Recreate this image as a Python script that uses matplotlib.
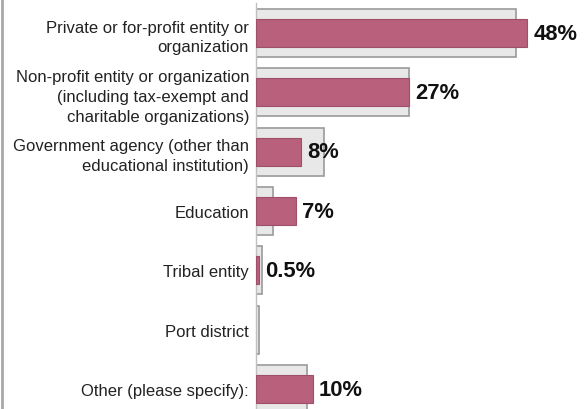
import matplotlib.pyplot as plt
from matplotlib.lines import Line2D

plt.rcParams['font.family'] = ['Liberation Sans', 'DejaVu Sans']

categories = [
    'Private or for-profit entity or\norganization',
    'Non-profit entity or organization\n(including tax-exempt and\ncharitable organizations)',
    'Government agency (other than\neducational institution)',
    'Education',
    'Tribal entity',
    'Port district',
    'Other (please specify):',
]
# percentages for this group (pink) and comparison group (grey)
values = [48, 27, 8, 7, 0.5, 0, 10]
value_labels = ['48%', '27%', '8%', '7%', '0.5%', '', '10%']
comparison = [46, 27, 12, 3, 1, 0.5, 9]

fig = plt.figure(figsize=(5.84, 4.10), dpi=100)
ax = fig.add_axes([256 / 584, -9.7 / 410, 328 / 584, 415.3 / 410])

y = list(range(len(categories)))
ax.barh(y, comparison, height=0.81, color='#e8e8e8', edgecolor='#9a9a9a', linewidth=1.2, zorder=2)
ax.barh(y, values, height=0.47, color='#b8607c', edgecolor='#a04f68',
        linewidth=[0.8 if v > 0 else 0 for v in values], zorder=3)

for yi, v, lab in zip(y, values, value_labels):
    if lab:
        ax.annotate(lab, (v, yi), xytext=(4.5, 0), textcoords='offset points',
                    va='center', ha='left', fontsize=15.8, fontweight='bold',
                    color='#111111', zorder=4)

ax.set_xlim(0, 58)
ax.set_ylim(len(categories) - 0.5, -0.5)
ax.set_yticks(y)
ax.set_yticklabels(categories, fontsize=12, color='#222222', linespacing=1.4)
ax.tick_params(axis='y', length=0, pad=5)
ax.set_xticks([])
for side in ['top', 'right', 'bottom']:
    ax.spines[side].set_visible(False)
ax.spines['left'].set_color('#c0c0c0')
ax.spines['left'].set_linewidth(1.0)

# thin frame line on the left edge
fig.add_artist(Line2D([2 / 584, 2 / 584], [0, 1], color='#a8a8a8', linewidth=2.0))

fig.savefig('out.png', dpi=100, facecolor='white')
